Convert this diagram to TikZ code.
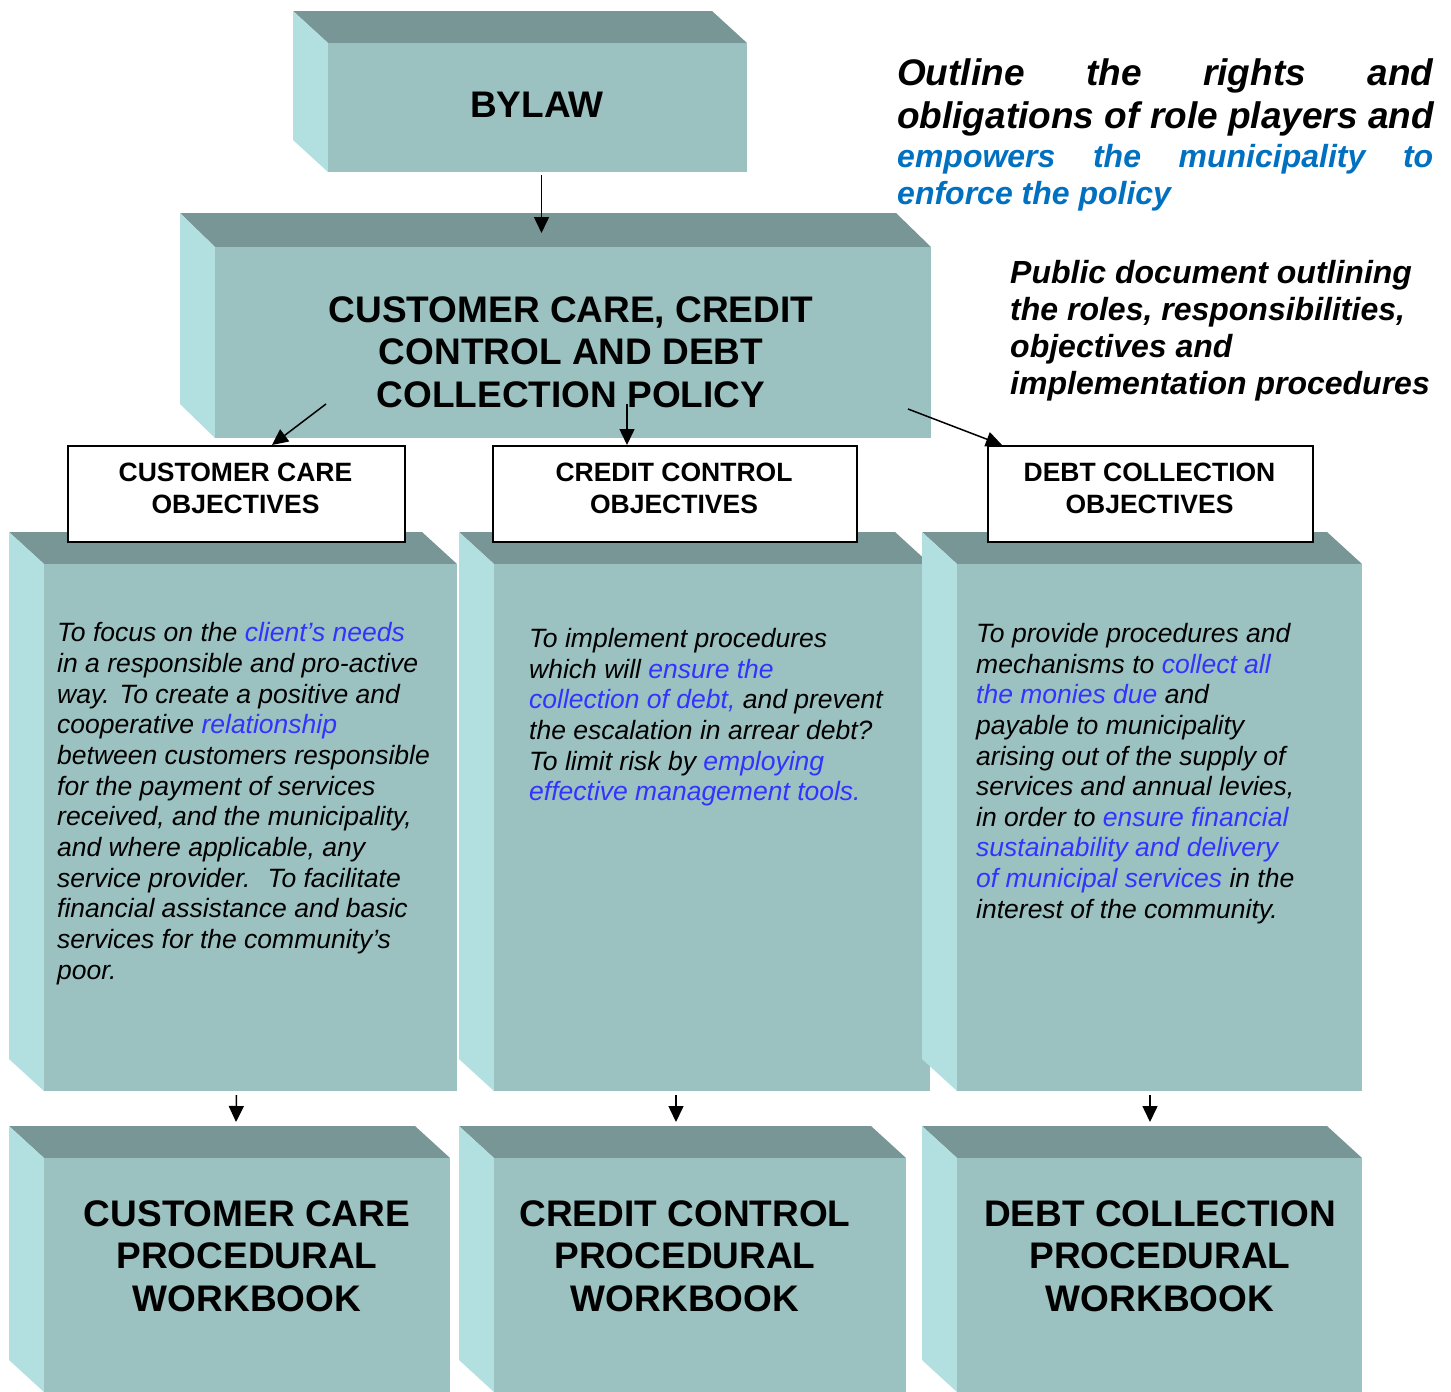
\documentclass[tikz,border=0pt]{standalone}
\usepackage{fontspec}
\setmainfont{Liberation Sans}
\usetikzlibrary{arrows.meta}
\definecolor{frontc}{RGB}{155,193,193}
\definecolor{topc}{RGB}{120,150,150}
\definecolor{sidec}{RGB}{178,223,223}
\definecolor{hiblue}{RGB}{51,51,255}
\definecolor{annblue}{RGB}{0,112,192}
\newcommand\fsz[2]{\fontsize{#1}{#2}\selectfont}
\newcommand\hb[1]{\textcolor{hiblue}{#1}}
\newcommand\cuboid[7]{%
 \pgfmathsetmacro\cdx{#4-#2}%
 \pgfmathsetmacro\cdy{#5-#3}%
 \pgfmathsetmacro\cw{#6-#4}%
 \pgfmathsetmacro\ch{#7-#5}%
 \fill[topc] (#2,#3) -- (#6-\cdx,#3) -- (#6,#5) -- (#4,#5) -- cycle;
 \fill[sidec] (#2,#3) -- (#4,#5) -- (#4,#7) -- (#2,#7-\cdy) -- cycle;
 \node[fill=frontc, minimum width=\cw pt, minimum height=\ch pt, inner sep=0pt, outer sep=0pt, anchor=north west] (#1) at (#4,#5) {};
}
\tikzset{
 arr/.style={line width=1.5pt, -{Triangle[length=16pt,width=15pt]}},
 title/.style={font=\fsz{37}{42.5}\bfseries, inner sep=0pt, align=center},
 objbox/.style={draw, line width=1.5pt, fill=white, inner sep=0pt, anchor=north west},
 objtext/.style={font=\fsz{26.5}{32}\bfseries, inner sep=0pt, align=center, anchor=north},
 body/.style={font=\fsz{26.5}{30.65}\itshape, inner sep=0pt, align=left, anchor=north west},
}
\begin{document}
\begin{tikzpicture}[x=1pt,y=-1pt]
\useasboundingbox (0,0) rectangle (1451,1392);
\fill[white] (0,0) rectangle (1451,1392);

% top boxes
\cuboid{bylaw}{293}{11}{328}{43}{747}{172}
\cuboid{policy}{180}{213}{215}{247}{931}{438}

% middle boxes
\cuboid{m1}{9}{532}{44}{564}{457}{1091}
\cuboid{m2}{459}{532}{494}{564}{930}{1091}
\cuboid{m3}{922}{532}{957}{564}{1362}{1091}

% objective boxes
\node[objbox, minimum width=337pt, minimum height=96pt] (cco) at (67,445) {};
\node[objbox, minimum width=364pt, minimum height=96pt] (cro) at (492,445) {};
\node[objbox, minimum width=325pt, minimum height=96pt] (dco) at (987,445) {};

% bottom boxes
\cuboid{b1}{9}{1126}{44}{1158}{450}{1392}
\cuboid{b2}{459}{1126}{494}{1158}{906}{1392}
\cuboid{b3}{922}{1126}{957}{1158}{1362}{1392}

% texts
\node[title, anchor=base] (bylawtxt) at (537,117) {BYLAW};
\node[title, anchor=north] (poltxt) at (571,296) {CUSTOMER CARE, CREDIT\\CONTROL AND DEBT\\COLLECTION POLICY};

\node[objtext] (ccotxt) at (235.5,463) {CUSTOMER CARE\\OBJECTIVES};
\node[objtext] (crotxt) at (674,463) {CREDIT CONTROL\\OBJECTIVES};
\node[objtext] (dcotxt) at (1149.5,463) {DEBT COLLECTION\\OBJECTIVES};

\node[body] (t1) at (57,622.5) {To focus on the \hb{client’s needs}\\in a responsible and pro-active\\way. To create a positive and\\cooperative \hb{relationship}\\between customers responsible\\for the payment of services\\received, and the municipality,\\and where applicable, any\\service provider.~ To facilitate\\financial assistance and basic\\services for the community’s\\poor.};
\node[body] (t2) at (529,628) {To implement procedures\\which will \hb{ensure the}\\\hb{collection of debt,} and prevent\\the escalation in arrear debt?\\To limit risk by \hb{employing}\\\hb{effective management tools.}};
\node[body] (t3) at (976,623) {To provide procedures and\\mechanisms to \hb{collect all}\\\hb{the monies due} and\\payable to municipality\\arising out of the supply of\\services and annual levies,\\in order to \hb{ensure financial}\\\hb{sustainability and delivery}\\\hb{of municipal services} in the\\interest of the community.};

\node[title, anchor=north] (b1txt) at (247,1200) {CUSTOMER CARE\\PROCEDURAL\\WORKBOOK};
\node[title, anchor=north] (b2txt) at (685,1200) {CREDIT CONTROL\\PROCEDURAL\\WORKBOOK};
\node[title, anchor=north] (b3txt) at (1160,1200) {DEBT COLLECTION\\PROCEDURAL\\WORKBOOK};

% annotations
\node[inner sep=0pt, anchor=north west, align=left, font=\fsz{37}{43}\bfseries\itshape] (ann1) at (897,58) {\hbox to 536pt{Outline\hfill the\hfill rights\hfill and}\\obligations of role players and};
\node[inner sep=0pt, anchor=north west, align=left, font=\fsz{32}{37}\bfseries\itshape, text=annblue] (ann2) at (897,144) {\hbox to 536pt{empowers\hfill the\hfill municipality\hfill to}\\enforce the policy};
\node[inner sep=0pt, anchor=north west, align=left, font=\fsz{32}{37}\bfseries\itshape] (ann3) at (1010,260) {Public document outlining\\the roles, responsibilities,\\objectives and\\implementation procedures};

% connectors
\draw[arr] ([xshift=4pt,yshift=-3pt]bylaw.south) -- ([xshift=-31.5pt,yshift=14pt]policy.north);
\coordinate (p1) at (326,404);
\coordinate (p2) at (627,404);
\coordinate (p3) at (908,409);
\draw[arr] (p1) -- (272,0 |- cco.north);
\draw[arr] (p2) -- (627,0 |- cro.north);
\draw[arr] (p3) -- (1002,0 |- dco.north);
\draw[arr] ([xshift=-14pt,yshift=-4pt]m1.south) -- ([xshift=-11pt,yshift=36pt]b1.north);
\draw[arr] ([xshift=-36pt,yshift=-4pt]m2.south) -- ([xshift=-24pt,yshift=36pt]b2.north);
\draw[arr] ([xshift=-9.5pt,yshift=-4pt]m3.south) -- ([xshift=-9.5pt,yshift=36pt]b3.north);
\end{tikzpicture}
\end{document}
